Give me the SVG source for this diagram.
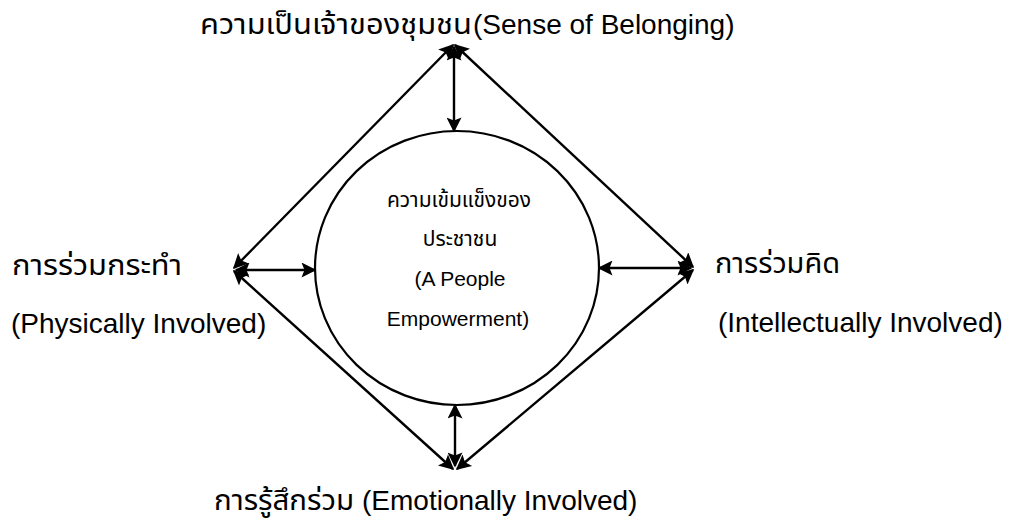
<svg xmlns="http://www.w3.org/2000/svg" width="1013" height="520" viewBox="0 0 1013 520">
<style>
text{font-family:"Liberation Sans","Noto Sans Thai","Noto Sans",sans-serif;fill:#000}
.big{font-size:28px}
.small{font-size:21px}
.ln{stroke:#000;stroke-width:2.4;fill:none;marker-start:url(#ah);marker-end:url(#ah)}
</style>
<defs>
<marker id="ah" viewBox="0 0 10 10" refX="9" refY="5" markerWidth="17" markerHeight="15" markerUnits="userSpaceOnUse" orient="auto-start-reverse">
<path d="M0,0 L10,5 L0,10 L2,5 z" fill="#000"/>
</marker>
</defs>
<rect width="1013" height="520" fill="#fff"/>
<g id="connectors">
<line class="ln" x1="453" y1="45" x2="234" y2="268"/>
<line class="ln" x1="455" y1="45" x2="693" y2="267"/>
<line class="ln" x1="234" y1="271" x2="453" y2="469"/>
<line class="ln" x1="693" y1="270" x2="457" y2="469"/>
<line class="ln" x1="454" y1="47" x2="454" y2="131"/>
<line class="ln" x1="236" y1="270" x2="315" y2="270"/>
<line class="ln" x1="691" y1="268" x2="599" y2="268"/>
<line class="ln" x1="455" y1="466" x2="455" y2="405"/>
</g>
<g id="center">
<ellipse cx="457" cy="268" rx="142" ry="137" fill="#fff" stroke="#000" stroke-width="2.2"/>
<text class="small" x="459" y="207" text-anchor="middle">ความเข้มแข็งของ</text>
<text class="small" x="460" y="246" text-anchor="middle">ประชาชน</text>
<text class="small" x="460" y="286" text-anchor="middle">(A People</text>
<text class="small" x="458" y="326" text-anchor="middle">Empowerment)</text>
</g>
<g id="top">
<text class="big" x="200" y="34" textLength="272" lengthAdjust="spacingAndGlyphs">ความเป็นเจ้าของชุมชน</text>
<text class="big" x="473" y="34">(Sense of Belonging)</text>
</g>
<g id="left">
<text class="big" x="12" y="275" textLength="170" lengthAdjust="spacingAndGlyphs">การร่วมกระทำ</text>
<text class="big" x="11" y="333">(Physically Involved)</text>
</g>
<g id="right">
<text class="big" x="715" y="273" textLength="125" lengthAdjust="spacingAndGlyphs">การร่วมคิด</text>
<text class="big" x="718" y="332">(Intellectually Involved)</text>
</g>
<g id="bottom">
<text class="big" x="214" y="510" textLength="140" lengthAdjust="spacingAndGlyphs">การรู้สึกร่วม</text>
<text class="big" x="362" y="510">(Emotionally Involved)</text>
</g>
</svg>
